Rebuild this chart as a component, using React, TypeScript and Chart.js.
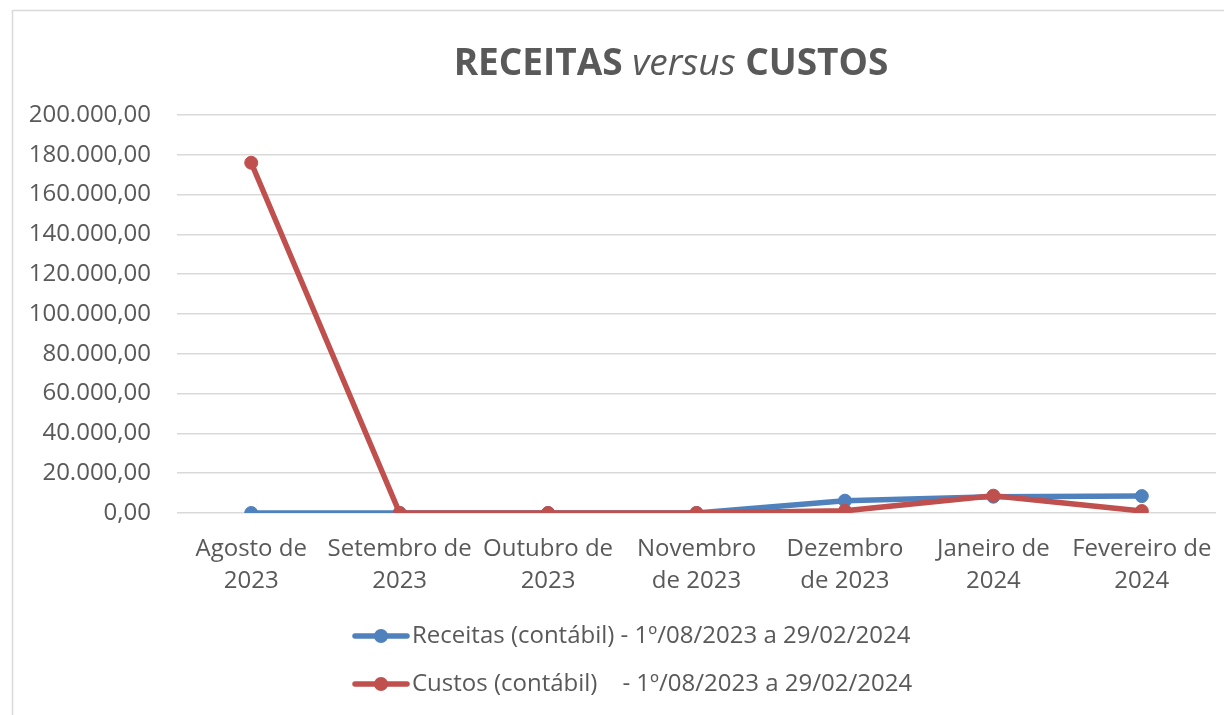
import React, { useEffect, useRef } from "react";
import { Chart, registerables } from "chart.js";

Chart.register(...registerables);

const categories: string[][] = [
  ["Agosto de", "2023"],
  ["Setembro de", "2023"],
  ["Outubro de", "2023"],
  ["Novembro", "de 2023"],
  ["Dezembro", "de 2023"],
  ["Janeiro de", "2024"],
  ["Fevereiro de", "2024"],
];

const receitas: number[] = [0, 0, 0, 0, 6200, 8200, 8500];
const custos: number[] = [176000, 0, 0, 0, 1100, 8700, 1000];

const seriesLabels: string[] = [
  "Receitas (contábil) - 1º/08/2023 a 29/02/2024",
  "Custos (contábil)    - 1º/08/2023 a 29/02/2024",
];

const yMin = 0;
const yMax = 200000;
const yStep = 20000;

const BLUE = "#4F81BD";
const RED = "#C0504D";
const TEXT = "#595959";
const GRID = "#D9D9D9";
const FONT = "'Open Sans', sans-serif";

function fmtBR(v: number): string {
  const neg = v < 0;
  const abs = Math.abs(v);
  const intPart = Math.floor(abs).toString().replace(/\B(?=(\d{3})+(?!\d))/g, ".");
  const dec = Math.round((abs - Math.floor(abs)) * 100).toString().padStart(2, "0");
  return (neg ? "-" : "") + intPart + "," + dec;
}

const framePlugin = {
  id: "frame",
  beforeDraw(chart: any) {
    const ctx = chart.ctx;
    ctx.save();
    ctx.fillStyle = "#FFFFFF";
    ctx.fillRect(0, 0, chart.width, chart.height);
    ctx.strokeStyle = GRID;
    ctx.lineWidth = 1.5;
    ctx.strokeRect(12.5, 10.5, 1400, 900);
    ctx.restore();
  },
};

const titlePlugin = {
  id: "customTitle",
  afterDraw(chart: any) {
    const ctx = chart.ctx;
    ctx.save();
    const parts = [
      { t: "RECEITAS ", f: `bold 37px ${FONT}` },
      { t: "versus", f: `italic 37px ${FONT}` },
      { t: " CUSTOS", f: `bold 37px ${FONT}` },
    ];
    let total = 0;
    const widths = parts.map((p) => {
      ctx.font = p.f;
      const w = ctx.measureText(p.t).width;
      total += w;
      return w;
    });
    let x = 671 - total / 2;
    ctx.fillStyle = TEXT;
    ctx.textBaseline = "alphabetic";
    ctx.textAlign = "left";
    parts.forEach((p, i) => {
      ctx.font = p.f;
      ctx.fillText(p.t, x, 75);
      x += widths[i];
    });
    ctx.restore();
  },
};

const legendPlugin = {
  id: "customLegend",
  afterDraw(chart: any) {
    const ctx = chart.ctx;
    ctx.save();
    const rows = [636, 684];
    chart.data.datasets.forEach((ds: any, i: number) => {
      const y = rows[i];
      const x0 = 355;
      ctx.strokeStyle = ds.borderColor;
      ctx.lineWidth = 5.5;
      ctx.lineCap = "round";
      ctx.beginPath();
      ctx.moveTo(x0, y);
      ctx.lineTo(x0 + 52, y);
      ctx.stroke();
      ctx.fillStyle = ds.borderColor;
      ctx.beginPath();
      ctx.arc(x0 + 26, y, 7, 0, Math.PI * 2);
      ctx.fill();
      ctx.fillStyle = TEXT;
      ctx.font = `24px ${FONT}`;
      ctx.textBaseline = "middle";
      ctx.textAlign = "left";
      ctx.fillText(ds.label, 412, y);
    });
    ctx.restore();
  },
};

export default function App() {
  const ref = useRef<HTMLCanvasElement | null>(null);

  useEffect(() => {
    if (!ref.current) return;
    const chart = new Chart(ref.current, {
      type: "line",
      data: {
        labels: categories,
        datasets: [
          {
            label: seriesLabels[0],
            data: receitas,
            borderColor: BLUE,
            backgroundColor: BLUE,
            borderWidth: 5.5,
            pointRadius: 6.5,
            pointBorderWidth: 1,
            pointBackgroundColor: BLUE,
            pointBorderColor: BLUE,
            tension: 0,
            order: 1,
          },
          {
            label: seriesLabels[1],
            data: custos,
            borderColor: RED,
            backgroundColor: RED,
            borderWidth: 5.5,
            pointRadius: 6.5,
            pointBorderWidth: 1,
            pointBackgroundColor: RED,
            pointBorderColor: RED,
            tension: 0,
            order: 0,
          },
        ],
      },
      options: {
        responsive: false,
        animation: false,
        layout: { padding: { top: 115, left: 12, right: 7, bottom: 100 } },
        plugins: {
          legend: { display: false },
          title: { display: false },
          tooltip: { enabled: false },
        },
        scales: {
          x: {
            offset: true,
            grid: { display: false },
            border: { display: false },
            ticks: {
              color: TEXT,
              font: { family: FONT, size: 24, lineHeight: 1.33 },
              padding: 12,
              maxRotation: 0,
              autoSkip: false,
            },
            afterFit: (scale: any) => {
              scale.height = 102;
            },
          },
          y: {
            min: yMin,
            max: yMax,
            border: { display: false },
            grid: { color: GRID, lineWidth: 1.5, drawTicks: false },
            ticks: {
              stepSize: yStep,
              color: TEXT,
              padding: 26,
              font: { family: FONT, size: 24 },
              callback: (v: any) => fmtBR(Number(v)),
            },
            afterFit: (scale: any) => {
              scale.width = 165;
            },
          },
        },
      },
      plugins: [framePlugin, titlePlugin, legendPlugin],
    });
    return () => chart.destroy();
  }, []);

  return (
    <div style={{ position: "absolute", left: 0, top: 0, width: 1224, height: 715 }}>
      <canvas ref={ref} width={1224} height={715} style={{ display: "block" }} />
    </div>
  );
}
